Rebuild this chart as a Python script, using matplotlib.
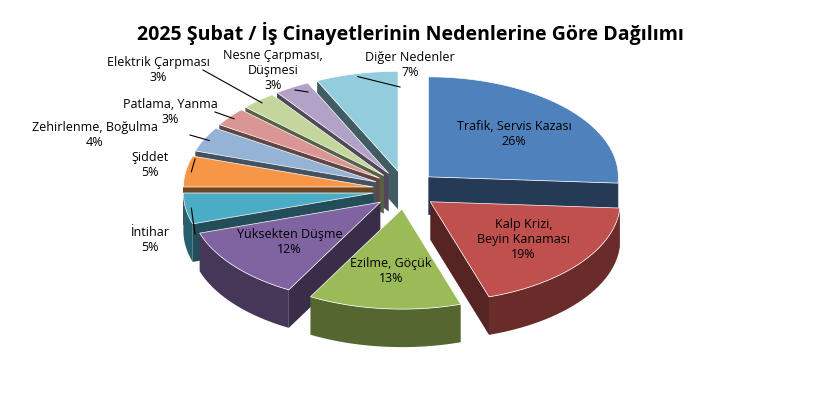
import numpy as np
import matplotlib.pyplot as plt
from matplotlib.patches import Polygon
from matplotlib.colors import to_rgb

# data
causes = ['Trafik, Servis Kazası', 'Kalp Krizi,\nBeyin Kanaması', 'Ezilme, Göçük',
          'Yüksekten Düşme', 'İntihar', 'Şiddet', 'Zehirlenme, Boğulma',
          'Patlama, Yanma', 'Elektrik Çarpması', 'Nesne Çarpması,\nDüşmesi', 'Diğer Nedenler']
shares = [26, 19, 13, 12, 5, 5, 4, 3, 3, 3, 7]
colors = ['#4F81BD', '#C0504D', '#9BBB59', '#8064A2', '#4BACC6', '#F79646',
          '#95B3D7', '#D99694', '#C3D69B', '#B3A2C7', '#93CDDD']

W, H = 820, 412
fig = plt.figure(figsize=(W / 100, H / 100), dpi=100)
ax = fig.add_axes([0, 0, 1, 1])
ax.set_xlim(0, W)
ax.set_ylim(H, 0)
ax.axis('off')
plt.rcParams['font.family'] = ['Open Sans', 'DejaVu Sans']

cx, cy = 405, 190
rx, ry, depth, expl = 190, 100, 38, 32


def dark(c, f=0.55):
    return tuple(v * f for v in to_rgb(c))


slices = []
start = 90.0
for val, col in zip(shares, colors):
    ang = val / sum(shares) * 360
    t1, t2 = start, start - ang
    mid = np.radians((t1 + t2) / 2)
    ox, oy = expl * np.cos(mid), -expl * 0.6 * np.sin(mid)
    slices.append((t1, t2, mid, ox, oy, col))
    start = t2

# painter order: back slices first
order = sorted(range(len(slices)), key=lambda i: -np.sin(slices[i][2]))

for i in order:
    t1, t2, mid, ox, oy, col = slices[i]
    ts = np.radians(np.linspace(t1, t2, 80))
    px = cx + ox + rx * np.cos(ts)
    py = cy + oy - ry * np.sin(ts)
    ccx, ccy = cx + ox, cy + oy
    # radial walls, only those facing the viewer
    for t, vis in ((ts[0], np.cos(ts[0]) < 0), (ts[-1], np.cos(ts[-1]) > 0)):
        if not vis:
            continue
        ex, ey = ccx + rx * np.cos(t), ccy - ry * np.sin(t)
        ax.add_patch(Polygon([(ccx, ccy), (ex, ey), (ex, ey + depth), (ccx, ccy + depth)],
                             closed=True, fc=dark(col, 0.45), ec='none'))
    # outer wall, front part
    front = np.sin(ts) < 0.02
    if front.any():
        fx, fy = px[front], py[front]
        ax.add_patch(Polygon(np.column_stack([np.r_[fx, fx[::-1]], np.r_[fy, fy[::-1] + depth]]),
                             closed=True, fc=dark(col), ec='none'))
    # top
    ax.add_patch(Polygon(np.column_stack([np.r_[ccx, px], np.r_[ccy, py]]),
                         closed=True, fc=col, ec='white', lw=0.5))

fs = 9
# inside labels for big slices
for i in range(4):
    t1, t2, mid, ox, oy, col = slices[i]
    r = 0.62
    x = cx + ox + r * rx * np.cos(mid)
    y = cy + oy - r * ry * np.sin(mid)
    ax.text(x, y, f'{causes[i]}\n{shares[i]}%', ha='center', va='center', fontsize=fs)

# outside labels with leader lines
label_pos = {4: (150, 240), 5: (150, 165), 6: (95, 135), 7: (170, 112),
             8: (158, 70), 9: (273, 70), 10: (410, 65)}
for i, (lx, ly) in label_pos.items():
    t1, t2, mid, ox, oy, col = slices[i]
    ex = cx + ox + 0.97 * rx * np.cos(mid)
    ey = cy + oy - 0.97 * ry * np.sin(mid)
    ax.text(lx, ly, f'{causes[i]}\n{shares[i]}%', ha='center', va='center', fontsize=fs)
    if i in (9, 10):
        ax.plot([lx + (35 if i == 9 else -10), ex], [ly + 22, ey], color='black', lw=0.8)
    else:
        ax.plot([lx + 45 if i != 6 else lx + 95, ex], [ly - 6 if i in (4, 5) else ly, ey],
                color='black', lw=0.8)

ax.text(410, 33, '2025 Şubat / İş Cinayetlerinin Nedenlerine Göre Dağılımı',
        ha='center', va='center', fontsize=14, fontweight='bold')

fig.savefig('out.png', dpi=100)
